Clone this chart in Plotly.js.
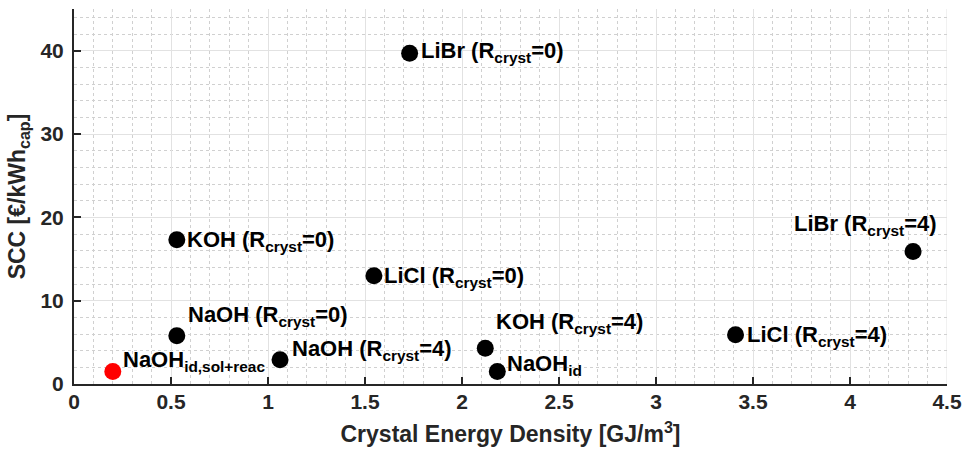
<!DOCTYPE html>
<html>
<head>
<meta charset="utf-8">
<script src="https://cdn.plot.ly/plotly-3.0.1.min.js"></script>
<style>html,body{margin:0;padding:0;background:#fff;}#chart{width:966px;height:451px;}</style>
</head>
<body>
<div id="chart"></div>
<script>
// Data
const labels = [
  "LiBr (R<sub>cryst</sub>=0)",
  "LiBr (R<sub>cryst</sub>=4)",
  "LiCl (R<sub>cryst</sub>=4)",
  "KOH (R<sub>cryst</sub>=0)",
  "LiCl (R<sub>cryst</sub>=0)",
  "NaOH (R<sub>cryst</sub>=0)",
  "NaOH (R<sub>cryst</sub>=4)",
  "KOH (R<sub>cryst</sub>=4)",
  "NaOH<sub>id</sub>"
];
const energyDensity = [1.73, 4.325, 3.41, 0.53, 1.546, 0.53, 1.062, 2.12, 2.182];
const scc = [39.7, 15.9, 5.9, 17.3, 13.0, 5.8, 2.9, 4.3, 1.5];

const refLabel = "NaOH<sub>id,sol+reac</sub>";
const refEnergyDensity = [0.2];
const refScc = [1.5];

const xTicks = [0, 0.5, 1, 1.5, 2, 2.5, 3, 3.5, 4, 4.5];
const xTickText = ["0", "0.5", "1", "1.5", "2", "2.5", "3", "3.5", "4", "4.5"];
const yTicks = [0, 10, 20, 30, 40];
const yTickText = ["0", "10", "20", "30", "40"];

// Label offsets in pixels (left edge, cap-top relative to marker centre)
const offsets = [
  [11, -10], [-119, -36], [11, -8], [10, -8], [10, -8],
  [11, -29], [12, -19], [11, -34], [10, -16]
];
const refOffset = [10, -20];

const txtColor = "#262626";
const fontFam = "Liberation Sans, Arial, Helvetica, sans-serif";

function mkAnn(x, y, text, off) {
  return {
    x: x, y: y, xref: "x", yref: "y", text: text, showarrow: false,
    xanchor: "left", yanchor: "top",
    xshift: off[0] - 1, yshift: 6 - off[1],
    font: {family: fontFam, size: 22, color: "#000", weight: "bold"},
    borderpad: 0
  };
}

const annotations = labels.map((t, i) => mkAnn(energyDensity[i], scc[i], t, offsets[i]));
annotations.push(mkAnn(refEnergyDensity[0], refScc[0], refLabel, refOffset));

const traces = [
  {x: energyDensity, y: scc, type: "scatter", mode: "markers",
   marker: {color: "#000", size: 17, line: {width: 0}}, hoverinfo: "skip", cliponaxis: false},
  {x: refEnergyDensity, y: refScc, type: "scatter", mode: "markers",
   marker: {color: "#ff0000", size: 17, line: {width: 0}}, hoverinfo: "skip", cliponaxis: false}
];

const layout = {
  width: 966, height: 451,
  margin: {l: 74, r: 19, t: 9, b: 67, pad: 0},
  paper_bgcolor: "#fff", plot_bgcolor: "#fff",
  showlegend: false,
  font: {family: fontFam, color: txtColor},
  xaxis: {
    range: [0, 4.5], tickvals: xTicks, ticktext: xTickText,
    ticks: "inside", ticklen: 7, tickwidth: 2, tickcolor: txtColor,
    showline: true, linecolor: txtColor, linewidth: 2, mirror: false,
    showgrid: true, gridcolor: "#e2e2e2", gridwidth: 1, zeroline: false,
    minor: {dtick: 0.1, showgrid: true, gridcolor: "#d0d0d0", griddash: "dot", gridwidth: 1, ticks: ""},
    tickfont: {family: fontFam, size: 21, color: txtColor, weight: "bold"},
    ticklabelstandoff: -2,
    title: {text: "Crystal Energy Density [GJ/m<sup>3</sup>]", standoff: 14,
      font: {family: fontFam, size: 23, color: txtColor, weight: "bold"}}
  },
  yaxis: {
    range: [0, 45], tickvals: yTicks, ticktext: yTickText,
    ticks: "inside", ticklen: 7, tickwidth: 2, tickcolor: txtColor,
    showline: true, linecolor: txtColor, linewidth: 2, mirror: false,
    showgrid: true, gridcolor: "#e2e2e2", gridwidth: 1, zeroline: false,
    minor: {dtick: 2, showgrid: true, gridcolor: "#d0d0d0", griddash: "dot", gridwidth: 1, ticks: ""},
    tickfont: {family: fontFam, size: 21, color: txtColor, weight: "bold"},
    ticklabelstandoff: 4,
    title: {text: "SCC [€/kWh<sub>cap</sub>]", standoff: 8,
      font: {family: fontFam, size: 23, color: txtColor, weight: "bold"}}
  },
  shapes: [
    {type: "line", xref: "x", yref: "paper", x0: 4.5, x1: 4.5, y0: 0, y1: 1,
     line: {color: "#e2e2e2", width: 1}, layer: "below"}
  ],
  annotations: annotations
};

Plotly.newPlot("chart", traces, layout, {staticPlot: true, displayModeBar: false});
</script>
</body>
</html>
